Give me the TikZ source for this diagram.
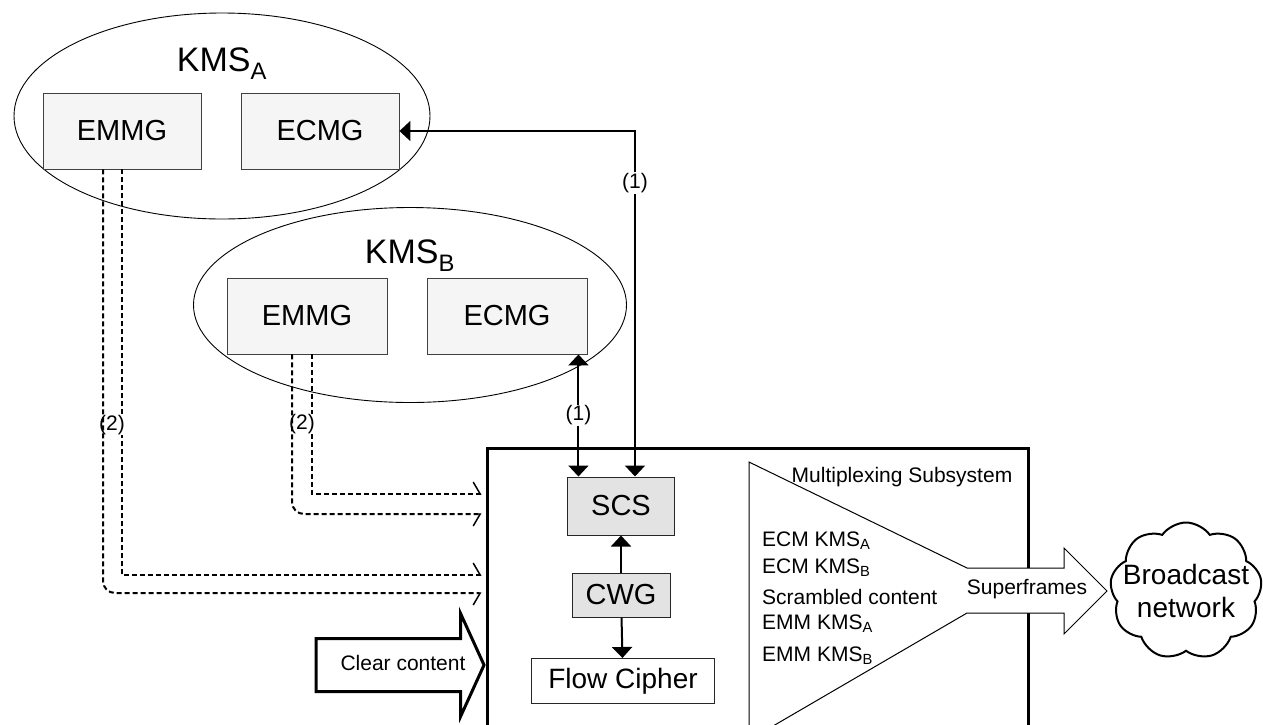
\documentclass[tikz,border=0pt]{standalone}
\usepackage{fontspec}
\setmainfont{Liberation Sans}
\usetikzlibrary{positioning,shapes.geometric,shapes.symbols,shapes.arrows,arrows.meta}

\begin{document}
\begin{tikzpicture}[x=1pt, y=-1pt,
    kms/.style={ellipse, draw, line width=0.9pt, inner sep=0pt},
    kmslabel/.style={font=\fontsize{34}{40}\selectfont},
    gen/.style={rectangle, draw=black!75, fill=black!4, line width=0.9pt, minimum width=158pt, minimum height=76pt, font=\fontsize{29}{34}\selectfont},
    unit/.style={rectangle, draw=black!85, fill=black!11, line width=1pt, inner sep=0pt, font=\fontsize{29}{34}\selectfont},
    small/.style={font=\fontsize{21}{25}\selectfont, inner sep=1pt},
    flow/.style={-{Triangle[length=11pt,width=20pt]}, line width=2pt},
    both/.style={{Triangle[length=11pt,width=20pt]}-{Triangle[length=11pt,width=20pt]}, line width=2pt},
    emm/.style={line width=2pt, dash pattern=on 5pt off 3pt, shorten >=4pt},
    emmup/.style={emm, -{Straight Barb[left, length=7pt, width=24pt, line width=1.5pt]}},
    emmdown/.style={emm, rounded corners=12pt, -{Straight Barb[right, length=7pt, width=24pt, line width=1.5pt]}}]

\useasboundingbox (0,0) rectangle (1263,724);

% Key management systems
\node[kms, minimum width=416pt, minimum height=206pt] (kmsA) at (222,116) {};
\node[kmslabel] (kmsAlabel) at (222,64) {KMS\textsubscript{A}};
\node[gen] (emmgA) at (122,131) {EMMG};
\node[gen] (ecmgA) at (320,131) {ECMG};

\node[kms, minimum width=433pt, minimum height=195pt] (kmsB) at (410,305) {};
\node[kmslabel] (kmsBlabel) at (410,256) {KMS\textsubscript{B}};
\node[gen, minimum width=160pt] (emmgB) at (307,316) {EMMG};
\node[gen, minimum width=160pt] (ecmgB) at (507,316) {ECMG};

% Head-end
\node[rectangle, draw, line width=3pt, minimum width=541pt, minimum height=320pt] (mux) at (757.5,608) {};
\node[unit, minimum width=107pt, minimum height=58pt] (scs) at (621,506) {SCS};
\node[unit, minimum width=98pt, minimum height=44pt] (cwg) at (621,595) {CWG};
\node[unit, fill=white, font=\fontsize{28}{33}\selectfont, minimum width=183pt, minimum height=45pt] (flowc) at (623,681) {Flow Cipher};

\node[single arrow, draw, line width=3pt, small, text height=15pt, text depth=5pt, inner xsep=0pt, inner ysep=15pt, minimum height=168pt, single arrow head extend=25pt, single arrow tip angle=131] (clear) at (394,665) {\hspace*{18pt}Clear content};

% Multiplexer
\draw[line width=1pt, fill=white] (749,462) -- (967,568) -- (1064,568) -- (1064,548) -- (1107,591) -- (1064,634) -- (1064,613) -- (967,613) -- (749,740) -- cycle;
\node[small] (muxlabel) at (902,477) {Multiplexing Subsystem};
\node[small, anchor=west] (ecmA) at (761,541) {ECM KMS\textsubscript{A}};
\node[small, anchor=west] (ecmB) at (761,568) {ECM KMS\textsubscript{B}};
\node[small, anchor=west] (scrambled) at (761,597) {Scrambled content};
\node[small, anchor=west] (emmA) at (761,624) {EMM KMS\textsubscript{A}};
\node[small, anchor=west] (emmB) at (761,656) {EMM KMS\textsubscript{B}};
\node[small] (superframes) at (1027,589) {Superframes};

\node[cloud, draw, line width=2pt, cloud puffs=9, cloud puff arc=110, minimum width=152pt, minimum height=137pt,
      label={[font=\fontsize{28}{33}\selectfont, align=center]center:Broadcast\\network}] (bcast) at (1186,591) {};

% Connections
\draw[both] (ecmgA.east) -| node[small, fill=white, pos=0.575] {(1)} ([xshift=14]scs.north);
\draw[both] ([xshift=-9]ecmgB.south east) -- node[small, fill=white] {(1)} ([xshift=-9]ecmgB.south east |- scs.north);
\draw[flow] (cwg) -- (scs);
\draw[flow] (cwg) -- (flowc);
\draw[emmup] (emmgA.south) |- node[small, fill=white, inner sep=0pt, pos=0.315, xshift=-10pt] {(2)} ([yshift=33]mux.west);
\draw[emmdown] ([xshift=-19]emmgA.south) |- ([yshift=15]mux.west);
\draw[emmup] ([xshift=5]emmgB.south) |- node[small, fill=white, inner sep=0pt, pos=0.25, xshift=-10pt] {(2)} ([yshift=114]mux.west);
\draw[emmdown] ([xshift=-15]emmgB.south) |- ([yshift=94]mux.west);

\end{tikzpicture}
\end{document}
